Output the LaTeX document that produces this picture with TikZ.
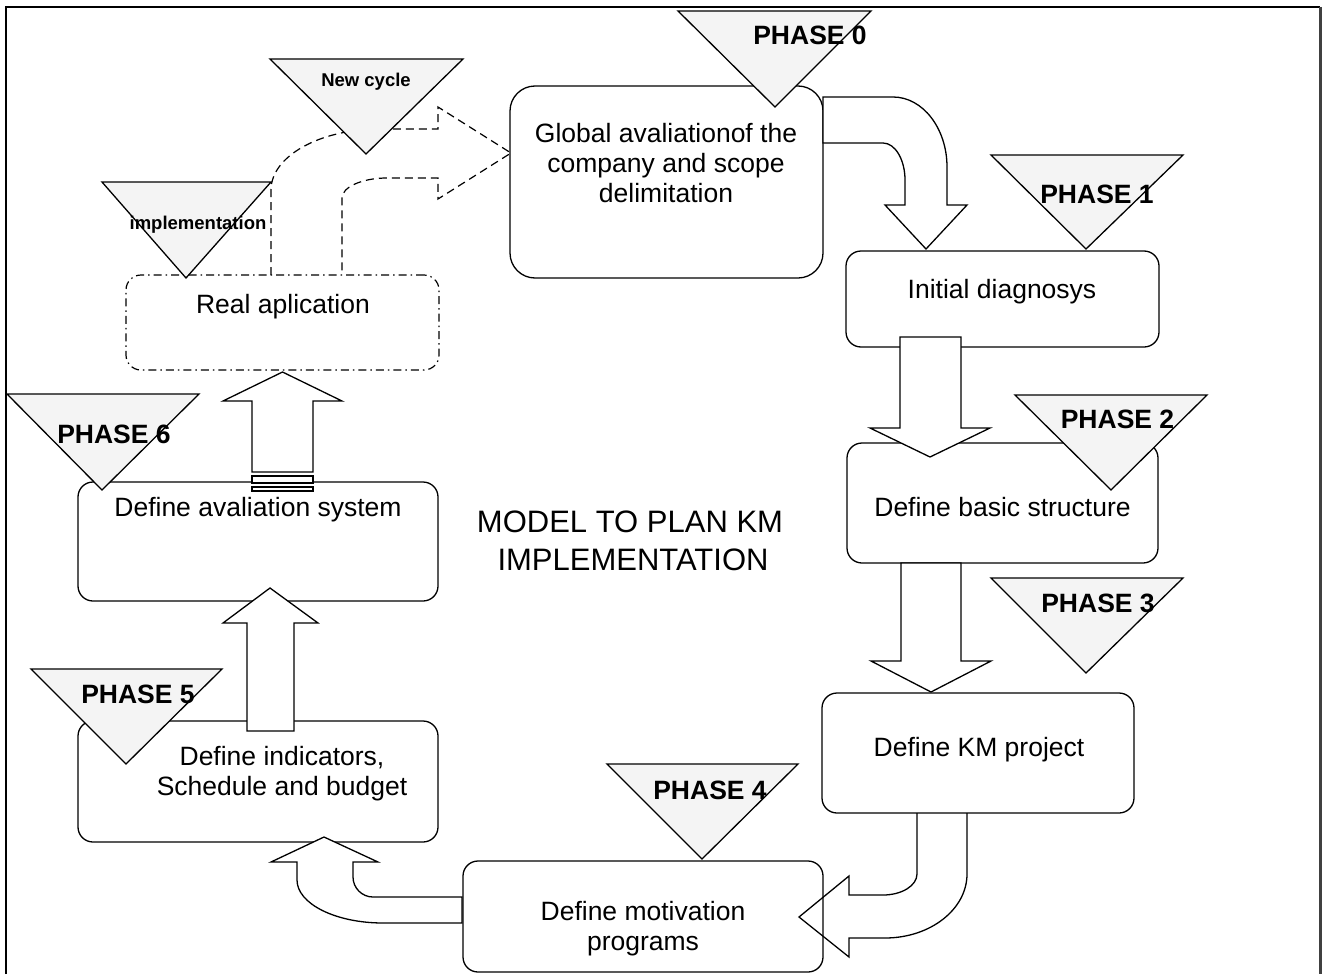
\documentclass[tikz,border=0pt]{standalone}
\usepackage{fontspec}
\setmainfont{Liberation Sans}
\definecolor{trifill}{RGB}{244,244,244}
\begin{document}
\begin{tikzpicture}[x=1pt,y=-1pt,
  box/.style={draw, line width=1.3pt, rounded corners=15pt, fill=white, inner sep=0pt, outer sep=0pt},
  realbox/.style={draw, line width=1.2pt, rounded corners=15pt, inner sep=0pt, outer sep=0pt,
     dash pattern=on 8pt off 4pt on 1.5pt off 4pt},
  barrow/.style={draw, line width=1.3pt, fill=white, line join=miter},
  oarrow/.style={draw, line width=1.3pt, line join=miter},
  darrow/.style={draw, line width=1.2pt, dash pattern=on 8pt off 5pt},
  tri/.style={draw, line width=1.3pt, fill=trifill, line join=miter},
  txt/.style={font=\fontsize{26.5}{30}\selectfont, inner sep=0pt, anchor=base},
  ph/.style={font=\bfseries\fontsize{26.5}{30}\selectfont, inner sep=0pt, anchor=base},
  phs/.style={font=\bfseries\fontsize{18.5}{22}\selectfont, inner sep=0pt, anchor=base},
  ttl/.style={font=\fontsize{31}{37}\selectfont, inner sep=0pt, anchor=base}
]
\useasboundingbox (0,0) rectangle (1324,974);
\fill[white] (0,0) rectangle (1324,974);
% frame
\draw[line width=1.5pt] (6,974) -- (6,7) -- (1320,7);
\draw[line width=2.2pt, black!75] (1320.5,7) -- (1320.5,974);

% boxes
\node[box, rounded corners=25pt, minimum width=313pt, minimum height=192pt] (global) at (666.5,182) {};
\node[box, minimum width=313pt, minimum height=96pt] (initial) at (1002.5,299) {};
\node[box, minimum width=311pt, minimum height=120pt] (basic) at (1002.5,503) {};
\node[box, minimum width=312pt, minimum height=120pt] (km) at (978,753) {};
\node[box, minimum width=360pt, minimum height=111pt] (motiv) at (643,916.5) {};
\node[box, minimum width=360pt, minimum height=121pt] (indic) at (258,781.5) {};
\node[box, minimum width=360pt, minimum height=119pt] (aval) at (258,541.5) {};
\node[realbox, minimum width=313pt, minimum height=95pt] (real) at (282.5,322.5) {};

% box texts
\node[txt] (global-l1) at (666,142) {Global avaliationof the};
\node[txt] (global-l2) at (666,172) {company and scope};
\node[txt] (global-l3) at (666,202) {delimitation};
\node[txt] (initial-t) at (1002,298) {Initial diagnosys};
\node[txt] (basic-t) at (1002.5,516) {Define basic structure};
\node[txt] (km-t) at (979,756.5) {Define KM project};
\node[txt] (motiv-l1) at (643,920) {Define motivation};
\node[txt] (motiv-l2) at (643,950) {programs};
\node[txt] (indic-l1) at (282,765) {Define indicators,};
\node[txt] (indic-l2) at (282,795) {Schedule and budget};
\node[txt] (aval-t) at (258,516) {Define avaliation system};
\node[txt] (real-t) at (283,313) {Real aplication};

% title
\node[ttl] (title-l1) at (630,532) {MODEL TO PLAN KM};
\node[ttl] (title-l2) at (633,570) {IMPLEMENTATION};

% block arrows
% global -> initial
\path[barrow] (823,97) -- (893,97) .. controls (922.8,97) and (947,128.4) .. (947,167)
  -- (947,205) -- (967,205) -- (926,249) -- (885,205) -- (905,205) -- (905,180)
  .. controls (905,159.6) and (895.1,143) .. (883,143) -- (823,143) -- cycle;
% initial -> basic
\path[barrow] (900,337) -- (961,337) -- (961,428) -- (990,428) -- (930,457) -- (870,428) -- (900,428) -- cycle;
% basic -> km
\path[barrow] (901,563) -- (961,563) -- (961,661) -- (991,661) -- (931,692) -- (871,661) -- (901,661) -- cycle;
% km -> motivation
\path[oarrow] (917,813) -- (917,874) .. controls (917,885.6) and (901.8,895) .. (883,895)
  -- (849,895) -- (849,876) -- (799,917) -- (849,957) -- (849,938) -- (885,938)
  .. controls (930.3,938) and (967,909.3) .. (967,874) -- (967,813);
% motivation -> indicators
\path[barrow] (462,897) -- (373,897) .. controls (362,897) and (353,888) .. (353,877)
  -- (353,862) -- (378,862) -- (324,837) -- (271,862) -- (297,862) -- (297,880)
  .. controls (297,903.7) and (335.5,923) .. (383,923) -- (462,923) -- cycle;
% indicators -> avaliation
\path[barrow] (247,731) -- (247,623) -- (223,623) -- (270,588) -- (318,623) -- (294,623) -- (294,731) -- cycle;
% avaliation -> real
\path[barrow] (252,472) -- (252,401) -- (223,401) -- (282.5,372) -- (342,401) -- (313,401) -- (313,472) -- cycle;
\path[barrow] (252,476) rectangle (313,483);
\path[barrow] (252,487) rectangle (313,491);
% real -> global (dashed)
\path[darrow] (271,275) -- (271,190) .. controls (271,156.3) and (319.8,129) .. (380,129)
  -- (438,129) -- (438,107) -- (511,153) -- (438,199) -- (438,178) -- (387,178)
  .. controls (362.2,178) and (342,187) .. (342,198) -- (342,275);

% phase triangles
\path[tri] (678,11) -- (871,11) -- (775,107) -- cycle;
\path[tri] (991,155) -- (1183,155) -- (1086,249) -- cycle;
\path[tri] (1015,395) -- (1207,395) -- (1111,490) -- cycle;
\path[tri] (991,578) -- (1183,578) -- (1086,673) -- cycle;
\path[tri] (607,764) -- (798,764) -- (702,859) -- cycle;
\path[tri] (31,669) -- (222,669) -- (126,764) -- cycle;
\path[tri] (7,394) -- (199,394) -- (102,490) -- cycle;
\path[tri] (270,59) -- (463,59) -- (366,154) -- cycle;
\path[tri] (102,182) -- (271,182) -- (186,278) -- cycle;

% phase labels
\node[ph] (p0) at (810,45) {PHASE 0};
\node[ph] (p1) at (1097,203) {PHASE 1};
\node[ph] (p2) at (1117.5,428) {PHASE 2};
\node[ph] (p3) at (1098,612) {PHASE 3};
\node[ph] (p4) at (710,799) {PHASE 4};
\node[ph] (p5) at (138,703) {PHASE 5};
\node[ph] (p6) at (114,443) {PHASE 6};
\node[phs] (newcycle) at (366,86) {New cycle};
\node[phs] (impl) at (198,229) {implementation};
\end{tikzpicture}
\end{document}
